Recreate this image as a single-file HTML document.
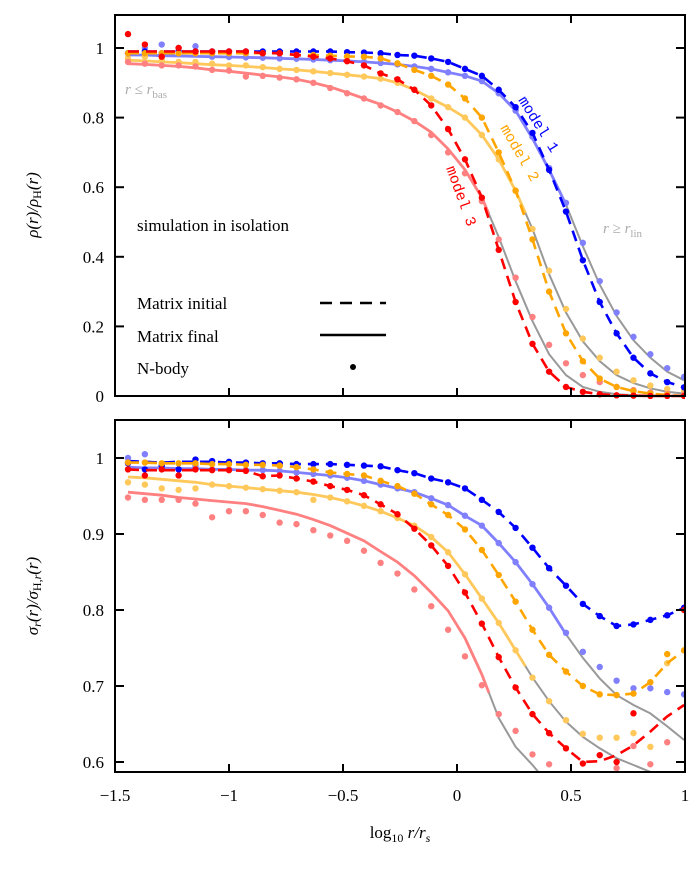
<!DOCTYPE html>
<html><head><meta charset="utf-8"><style>
body{margin:0;background:#fff;}
svg{display:block;font-family:"Liberation Serif",serif;}
</style></head><body>
<svg id="c" width="700" height="880" xmlns="http://www.w3.org/2000/svg">
<defs>
<clipPath id="clipT"><rect x="115" y="15" width="570" height="384"/></clipPath>
<clipPath id="clipB"><rect x="115" y="420" width="570" height="352"/></clipPath>
</defs>
<g id="gT" clip-path="url(#clipT)"></g>
<g id="gB" clip-path="url(#clipB)"></g>
<rect x="115" y="15" width="570" height="381" fill="none" stroke="#000" stroke-width="2"/>
<rect x="115" y="420" width="570" height="352" fill="none" stroke="#000" stroke-width="2"/>
<g id="axes" font-size="17" fill="#000"></g>
<text x="137" y="231" font-size="17">simulation in isolation</text>
<text x="125" y="94" font-size="15" fill="#aaa" font-style="italic">r ≤ r<tspan font-size="11" dy="4" font-style="normal">bas</tspan></text>
<text x="603" y="233" font-size="15" fill="#aaa" font-style="italic">r ≥ r<tspan font-size="11" dy="4" font-style="normal">lin</tspan></text>
<text transform="translate(518,100) rotate(58)" font-family="Liberation Mono,monospace" font-size="15" fill="#0000ff">model 1</text>
<text transform="translate(500,128) rotate(60)" font-family="Liberation Mono,monospace" font-size="15" fill="#ffa500">model 2</text>
<text transform="translate(446,168) rotate(70)" font-family="Liberation Mono,monospace" font-size="15" fill="#ff0000">model 3</text>
<g font-size="17">
<text x="137" y="309">Matrix initial</text>
<line x1="320" y1="303" x2="386" y2="303" stroke="#000" stroke-width="2.5" stroke-dasharray="12,8"/>
<text x="137" y="342">Matrix final</text>
<line x1="320" y1="335" x2="386" y2="335" stroke="#000" stroke-width="2.5"/>
<text x="137" y="374">N-body</text>
<circle cx="353" cy="367" r="3" fill="#000"/>
</g>
<text transform="translate(38,205) rotate(-90)" text-anchor="middle" font-size="17" font-style="italic">ρ(r)/ρ<tspan font-style="normal" font-size="12" dy="3">H</tspan><tspan dy="-3">(r)</tspan></text>
<text transform="translate(38,596) rotate(-90)" text-anchor="middle" font-size="17" font-style="italic">σ<tspan font-size="12" dy="3">r</tspan><tspan dy="-3">(r)/σ</tspan><tspan font-style="normal" font-size="12" dy="3">H,</tspan><tspan font-size="12">r</tspan><tspan dy="-3">(r)</tspan></text>
<text x="400" y="838" text-anchor="middle" font-size="17">log<tspan font-size="12" dy="4">10</tspan><tspan dy="-4" font-style="italic"> r/r</tspan><tspan font-size="12" dy="4" font-style="italic">s</tspan></text>
</svg>
<script>
const xs=[-1.443,-1.369,-1.295,-1.221,-1.147,-1.074,-1.0,-0.926,-0.852,-0.778,-0.704,-0.63,-0.556,-0.482,-0.408,-0.335,-0.261,-0.187,-0.113,-0.039,0.035,0.109,0.183,0.257,0.331,0.404,0.478,0.552,0.626,0.7,0.774,0.848,0.922,0.996];
const xTicks=[-1.5,-1,-0.5,0,0.5,1];
const xTickLabels=["−1.5","−1","−0.5","0","0.5","1"];
const yTicksTop=[0,0.2,0.4,0.6,0.8,1];
const yTickLabelsTop=["0","0.2","0.4","0.6","0.8","1"];
const yTicksBot=[0.6,0.7,0.8,0.9,1];
const yTickLabelsBot=["0.6","0.7","0.8","0.9","1"];
const models=["model-1","model-2","model-3"];
const finalCut=[0.48,0.30,0.14];
// top panel: density ratio
const topInit1=[.99,.99,.99,.99,.99,.99,.99,.99,.99,.99,.99,.99,.99,.988,.987,.985,.98,.978,.97,.96,.94,.92,.88,.83,.756,.65,.53,.39,.27,.18,.11,.065,.04,.025];
const topFinal1=[.98,.98,.978,.977,.976,.975,.974,.973,.972,.97,.969,.967,.965,.963,.96,.957,.953,.947,.94,.93,.92,.905,.87,.82,.74,.65,.55,.43,.32,.23,.16,.11,.07,.045];
const topInit2=[.985,.985,.985,.985,.985,.985,.985,.985,.985,.985,.98,.98,.978,.976,.975,.97,.956,.937,.92,.895,.855,.8,.70,.59,.45,.30,.18,.10,.05,.026,.014,.007,.003,0];
const topFinal2=[.965,.963,.96,.958,.955,.952,.95,.947,.944,.94,.937,.933,.928,.923,.918,.912,.9,.88,.855,.83,.80,.75,.68,.59,.48,.35,.24,.157,.1,.06,.037,.022,.012,.007];
const topInit3=[.99,.99,.99,.99,.99,.99,.99,.99,.985,.985,.98,.975,.97,.962,.95,.927,.91,.88,.835,.767,.68,.57,.42,.27,.15,.07,.026,.012,.005,.002,.001,0,0,0];
const topFinal3=[.955,.953,.95,.947,.943,.937,.933,.928,.922,.917,.91,.9,.888,.872,.855,.838,.816,.79,.758,.71,.65,.57,.457,.33,.215,.12,.06,.026,.012,.005,.002,.001,0,0];
const topDotsInit1=[.985,.99,.985,.99,.99,.99,.99,.99,.99,.99,.99,.99,.99,.988,.987,.985,.98,.978,.97,.96,.94,.92,.88,.83,.756,.65,.53,.39,.27,.18,.11,.065,.04,.025];
const topDotsInit2=[.985,.985,.985,.985,.985,.985,.985,.985,.985,.985,.98,.98,.978,.976,.975,.97,.956,.937,.92,.895,.855,.8,.70,.59,.45,.30,.18,.10,.05,.026,.014,.007,.003,0];
const topDotsInit3=[1.04,1.01,.975,1.0,.99,.99,.99,.99,.985,.985,.98,.975,.97,.962,.95,.927,.91,.88,.835,.767,.68,.57,.42,.27,.15,.07,.026,.012,.005,.002,.001,0,0,0];
const topDotsFinal1=[.985,1.0,1.01,1.0,1.005,.975,.974,.973,.972,.97,.969,.967,.965,.963,.96,.957,.953,.947,.94,.93,.92,.905,.87,.82,.745,.655,.555,.44,.33,.24,.17,.12,.08,.055];
const topDotsFinal2=[.97,.975,.965,.96,.96,.955,.95,.95,.945,.94,.937,.933,.928,.923,.918,.912,.9,.88,.855,.83,.80,.75,.68,.59,.48,.36,.25,.165,.11,.07,.045,.03,.02,.015];
const topDotsFinal3=[.96,.955,.95,.95,.947,.937,.935,.918,.92,.915,.91,.9,.885,.87,.855,.835,.816,.79,.75,.70,.64,.56,.45,.34,.227,.147,.094,.06,.04,.026,.017,.01,.006,.004];
// bottom panel: velocity dispersion ratio
const botInit1=[.996,.995,.994,.995,.995,.995,.994,.994,.993,.993,.992,.992,.992,.991,.99,.989,.984,.98,.973,.968,.96,.945,.929,.908,.882,.855,.832,.808,.792,.779,.781,.787,.793,.803];
const botFinal1=[.988,.987,.987,.986,.986,.985,.985,.984,.984,.983,.981,.979,.977,.974,.97,.965,.96,.955,.947,.938,.924,.911,.888,.863,.834,.803,.768,.737,.71,.688,.675,.664,.647,.629];
const botInit2=[.994,.994,.993,.993,.993,.992,.992,.991,.991,.99,.988,.985,.981,.979,.977,.97,.963,.953,.939,.925,.906,.879,.846,.811,.774,.741,.719,.70,.689,.688,.69,.705,.73,.747];
const botFinal2=[.975,.974,.972,.97,.968,.965,.963,.961,.959,.957,.955,.952,.948,.943,.937,.93,.921,.911,.896,.876,.847,.815,.783,.747,.711,.68,.653,.633,.618,.605,.596,.587,.58,.572];
const botInit3=[.985,.984,.984,.984,.984,.984,.984,.983,.976,.977,.973,.969,.963,.958,.951,.939,.926,.907,.885,.858,.823,.782,.738,.698,.663,.638,.618,.60,.601,.609,.622,.64,.66,.675];
const botFinal3=[.955,.953,.951,.948,.946,.944,.942,.94,.936,.931,.926,.919,.911,.901,.891,.877,.863,.845,.823,.799,.763,.715,.658,.62,.596,.57,.55,.53,.52,.51,.5,.5,.5,.5];
const botDotsInit1=[.993,.985,.99,.985,.998,.996,.995,.994,.993,.993,.992,.992,.992,.991,.99,.989,.984,.98,.973,.968,.96,.945,.929,.908,.882,.855,.832,.808,.792,.779,.781,.787,.793,.803];
const botDotsInit2=[.994,.994,.993,.993,.993,.992,.992,.991,.991,.99,.988,.985,.981,.979,.977,.97,.963,.953,.939,.925,.906,.879,.846,.811,.774,.741,.719,.70,.689,.688,.69,.705,.742,.747];
const botDotsInit3=[.985,.977,.985,.977,.985,.984,.984,.983,.976,.977,.973,.969,.963,.958,.951,.939,.926,.907,.885,.858,.823,.782,.738,.698,.663,.638,.618,.598,.609,.60,.664,null,null,.80];
const botDotsFinal1=[1.0,1.005,.99,.985,.99,.985,.985,.984,.984,.983,.981,.979,.977,.974,.97,.965,.96,.955,.947,.938,.924,.911,.888,.863,.834,.803,.77,.745,.725,.707,.697,.697,.692,.689];
const botDotsFinal2=[.968,.965,.96,.958,.96,.965,.963,.961,.959,.957,.955,.945,.948,.943,.937,.93,.921,.911,.896,.876,.847,.815,.783,.747,.711,.68,.655,.637,.632,.632,.638,.62,.73,.576];
const botDotsFinal3=[.948,.945,.945,.945,.94,.922,.93,.93,.925,.915,.913,.905,.898,.891,.878,.862,.848,.827,.805,.774,.739,.701,.663,.641,.61,.597,.583,.583,.583,.592,.621,.597,.626,null];

const NS="http://www.w3.org/2000/svg";
const X=v=>115+(v+1.5)*228;
const YT=v=>396-v*348;
const YB=v=>458+(1-v)*760;
const dark=["#0000ff","#ffa500","#ff0000"];
const light=["#8080ff","#ffc85a","#ff8080"];
function mk(tag,attrs,parent){const e=document.createElementNS(NS,tag);for(const k in attrs)e.setAttribute(k,attrs[k]);parent.appendChild(e);return e;}
function pathD(vals,Y,maxX){let pts=[];for(let i=0;i<xs.length;i++){if(vals[i]==null)continue;if(maxX!=null&&xs[i]>maxX){const j=i-1;const t=(maxX-xs[j])/(xs[i]-xs[j]);pts.push([X(maxX),Y(vals[j]+t*(vals[i]-vals[j]))]);break;}pts.push([X(xs[i]),Y(vals[i])]);}return "M"+pts.map(p=>p[0].toFixed(1)+","+p[1].toFixed(1)).join("L");}
function drawPanel(g,Y,inits,finals,dInits,dFinals,pname){
  for(let m=0;m<3;m++){
    let gr=mk("path",{d:pathD(finals[m],Y),fill:"none",stroke:"#999","stroke-width":2},g);
    
    
  }
  for(let m=0;m<3;m++){
    let dots=dFinals[m];
    for(let i=0;i<xs.length;i++){if(dots[i]==null)continue;
      let c=mk("circle",{cx:X(xs[i]),cy:Y(dots[i]),r:3.2,fill:light[m]},g);
      
      }
    let p=mk("path",{d:pathD(finals[m],Y,finalCut[m]),fill:"none",stroke:light[m],"stroke-width":2.8},g);
    
    
  }
  for(let m=0;m<3;m++){
    let p=mk("path",{d:pathD(inits[m],Y),fill:"none",stroke:dark[m],"stroke-width":2.6,"stroke-dasharray":"11,7"},g);
    
    
    let dots=dInits[m];
    for(let i=0;i<xs.length;i++){if(dots[i]==null)continue;
      let c=mk("circle",{cx:X(xs[i]),cy:Y(dots[i]),r:3.2,fill:dark[m]},g);
      
      }
  }
}
drawPanel(document.getElementById("gT"),YT,[topInit1,topInit2,topInit3],[topFinal1,topFinal2,topFinal3],[topDotsInit1,topDotsInit2,topDotsInit3],[topDotsFinal1,topDotsFinal2,topDotsFinal3],"top");
drawPanel(document.getElementById("gB"),YB,[botInit1,botInit2,botInit3],[botFinal1,botFinal2,botFinal3],[botDotsInit1,botDotsInit2,botDotsInit3],[botDotsFinal1,botDotsFinal2,botDotsFinal3],"bottom");
const ax=document.getElementById("axes");
for(let i=0;i<xTicks.length;i++){
  const x=X(xTicks[i]);
  for(const [y1,y2] of [[15,23],[396,388],[420,428],[772,764]]){
    let l=mk("line",{x1:x,x2:x,y1:y1,y2:y2,stroke:"#000","stroke-width":2},ax);
    
    }
  let t=mk("text",{x:x,y:801,"text-anchor":"middle"},ax);t.textContent=xTickLabels[i];
  
  
}
function yt(ticks,labels,Y,pname){
  for(let i=0;i<ticks.length;i++){const y=Y(ticks[i]);
    for(const [x1,x2] of [[115,124],[685,676]]){
      let l=mk("line",{x1:x1,x2:x2,y1:y,y2:y,stroke:"#000","stroke-width":2},ax);
      
      }
    let t=mk("text",{x:104,y:y+6,"text-anchor":"end"},ax);t.textContent=labels[i];
    
    }
}
yt(yTicksTop,yTickLabelsTop,YT,"top");
yt(yTicksBot,yTickLabelsBot,YB,"bottom");
</script>
</body></html>
